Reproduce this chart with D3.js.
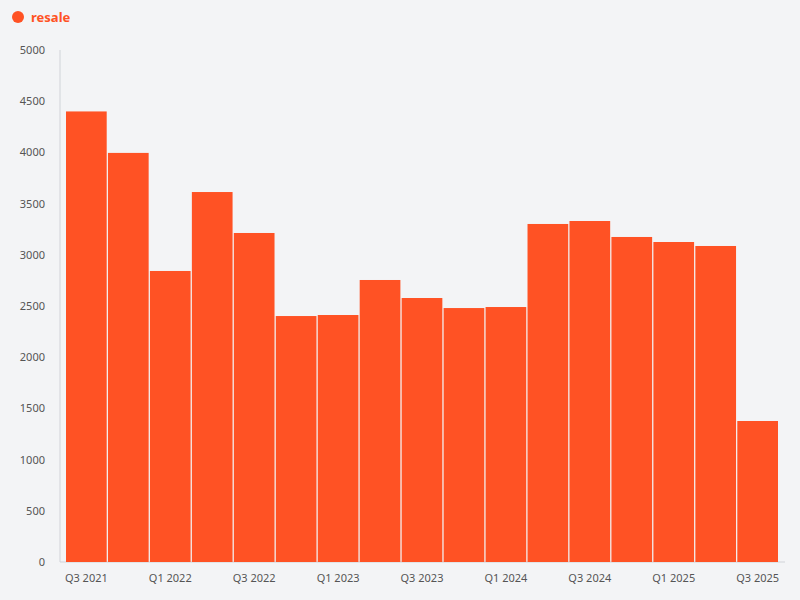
<!DOCTYPE html>
<html><head><meta charset="utf-8">
<script src="https://cdn.jsdelivr.net/npm/d3@7"></script>
<style>body{margin:0;background:#f3f4f6;font-family:"Noto Sans","Open Sans",sans-serif}</style>
</head><body><svg id="c" width="800" height="600"></svg>
<script>
const categories=["Q3 2021","Q4 2021","Q1 2022","Q2 2022","Q3 2022","Q4 2022","Q1 2023","Q2 2023","Q3 2023","Q4 2023","Q1 2024","Q2 2024","Q3 2024","Q4 2024","Q1 2025","Q2 2025","Q3 2025"];
const resale=[4400,3995,2842,3613,3213,2402,2412,2754,2578,2480,2490,3301,3330,3174,3125,3086,1377];
const yTicks=[0,500,1000,1500,2000,2500,3000,3500,4000,4500,5000];
const color="#ff5224";
const svg=d3.select("#c");
svg.append("rect").attr("width",800).attr("height",600).attr("fill","#f3f4f6");
const x=d3.scaleBand().domain(categories).range([66,778]).paddingInner(0.03).paddingOuter(0.0);
const y=d3.scaleLinear().domain([0,5000]).range([562,50]);
svg.append("line").attr("x1",60).attr("x2",60).attr("y1",50).attr("y2",562).attr("stroke","#d0d3d8");
svg.append("line").attr("x1",60).attr("x2",785).attr("y1",562).attr("y2",562).attr("stroke","#d0d3d8");
svg.selectAll(".yt").data(yTicks).enter().append("text").attr("x",45).attr("y",d=>y(d)+4)
 .attr("text-anchor","end").attr("font-size",11).attr("fill","#555").text(d=>d);
svg.selectAll(".bar").data(resale).enter().append("rect")
 .attr("x",(d,i)=>x(categories[i])).attr("width",x.bandwidth())
 .attr("y",d=>y(d)).attr("height",d=>y(0)-y(d)).attr("fill",color);
svg.selectAll(".xt").data(categories.filter((c,i)=>i%2===0)).enter().append("text")
 .attr("x",d=>x(d)+x.bandwidth()/2).attr("y",582).attr("text-anchor","middle")
 .attr("font-size",11).attr("fill","#555").text(d=>d);
svg.append("circle").attr("cx",18).attr("cy",17).attr("r",6).attr("fill",color);
svg.append("text").attr("x",31).attr("y",22).attr("font-size",13).attr("font-weight","bold").attr("fill",color).text("resale");
</script></body></html>
